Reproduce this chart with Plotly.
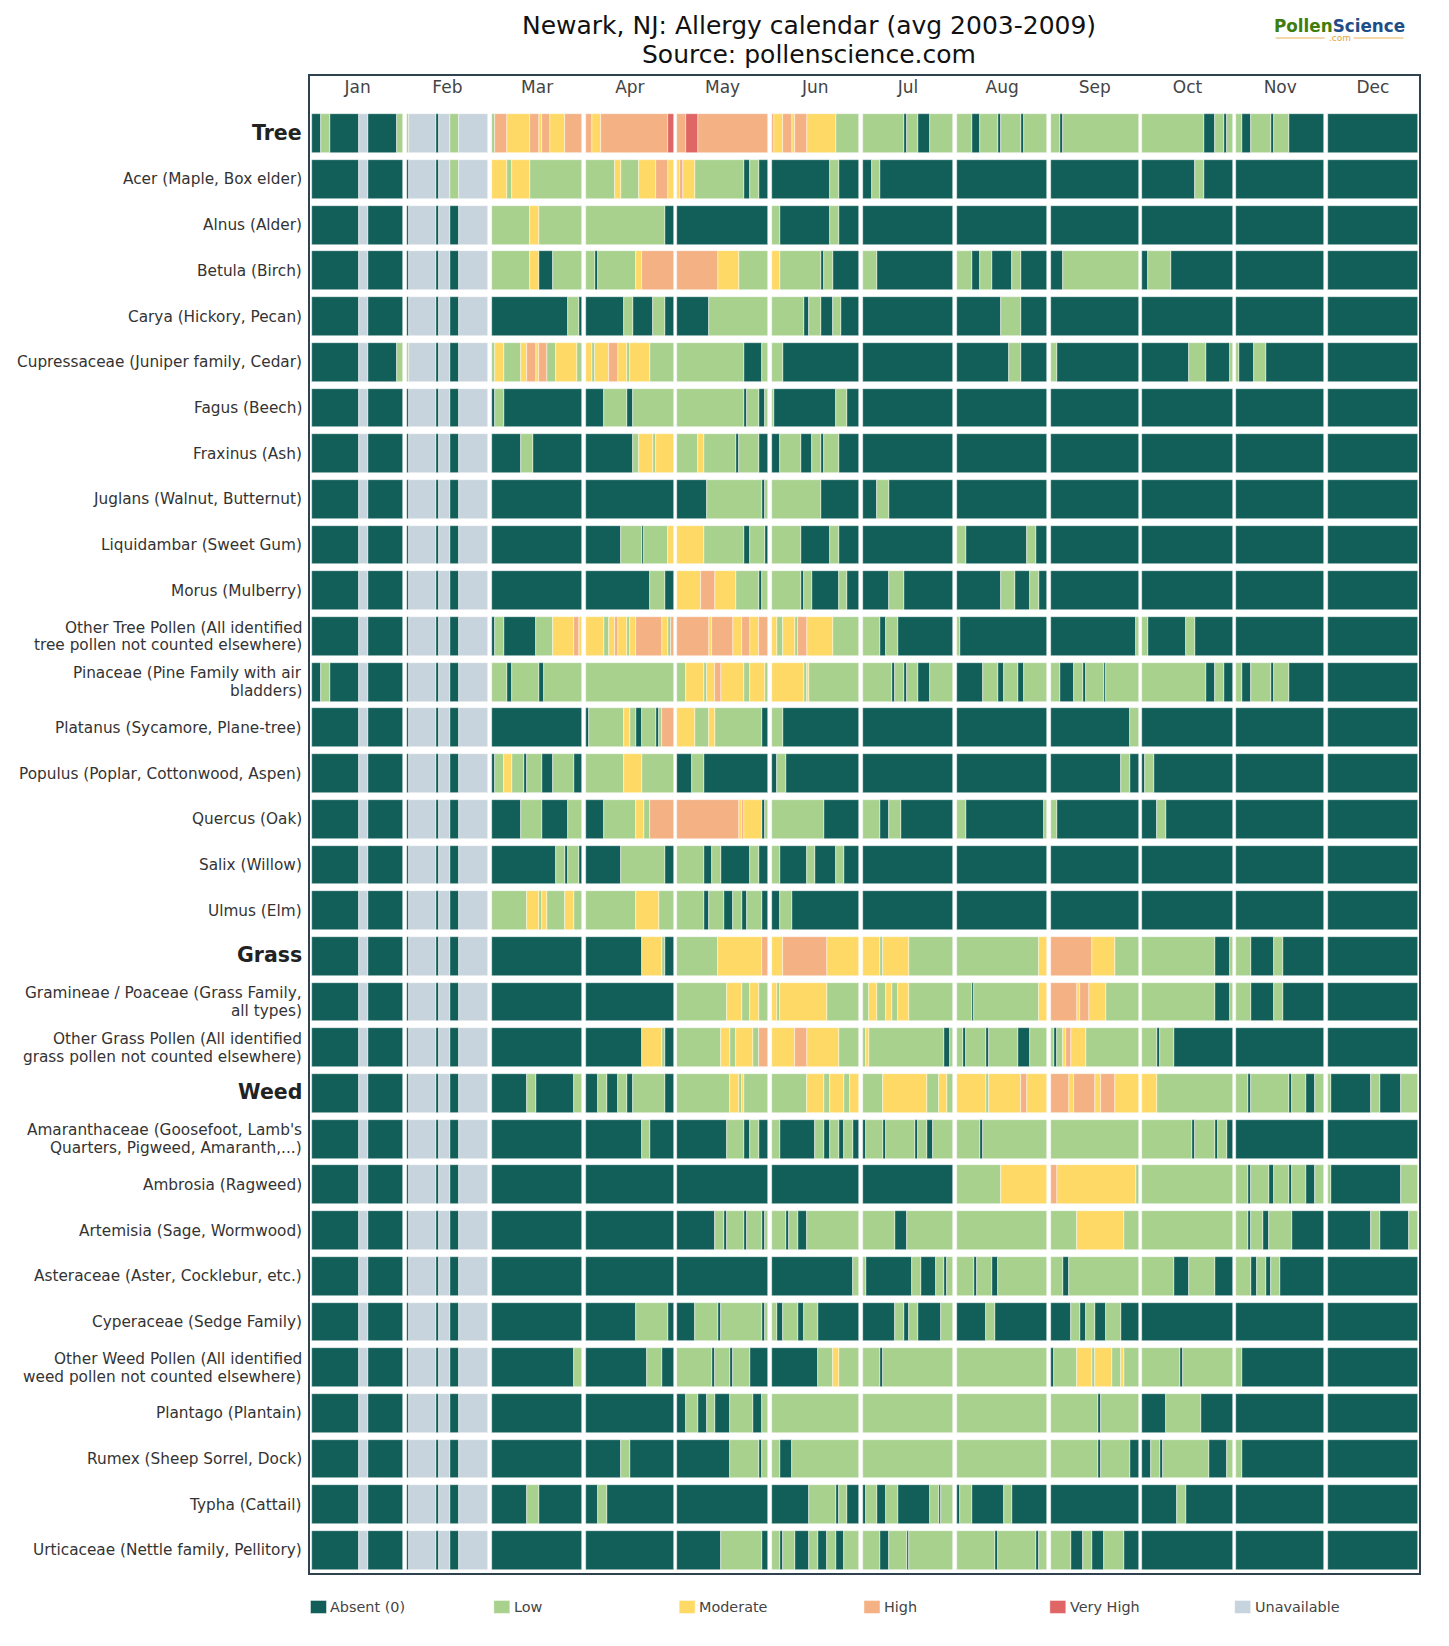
import plotly.graph_objects as go

# Calendar months and the spacing drawn between them (in day units)
MONTHS = ["Jan", "Feb", "Mar", "Apr", "May", "Jun", "Jul", "Aug", "Sep", "Oct", "Nov", "Dec"]
MONTH_DAYS = [31, 28, 31, 30, 31, 30, 31, 31, 30, 31, 30, 31]
MONTH_GAP = 1.3

# Pollen levels: code letter, legend label, colour
LEVEL_CODES = ["A", "L", "M", "H", "V", "U"]
LEVEL_NAMES = ["Absent (0)", "Low", "Moderate", "High", "Very High", "Unavailable"]
LEVEL_COLORS = ["#125f59", "#a9d18e", "#ffd966", "#f4b183", "#e06666", "#c8d4dd"]

# Each series holds one run-length string per month: level letter + number of days
JAN = "A16 U3 A12"
FEB = "A1 U9 A1 U4 A3 U10"
M28, M30, M31 = "A28", "A30", "A31"

tree = ["A3 L3 A10 U3 A10 L2", "L1 U9 A1 U4 L3 U10", "L1 H4 M8 H3 M1 H3 M5 H6", "H2 M3 H23 V2", "H3 V4 H24", "H1 M3 H3 M1 H4 M10 L8",
        "L14 A1 L4 A4 L8", "L5 A3 L6 A1 L7 A1 L8", "L3 A1 L26", "L21 A4 L3 A1 L2", "L2 A3 L7 A1 L5 A12", M31]
acer = [JAN, "A1 U9 A1 U4 L3 U10", "M5 L2 M6 L18", "L10 M2 L6 M6 H4 M2", "M1 H1 M4 L17 A2 L3 A3", "A20 L3 A7",
        "A3 L3 A25", M31, M30, "A18 L3 A10", M30, M31]
alnus = [JAN, FEB, "L13 M3 L15", "L27 A3", M31, "L3 A17 L3 A7", M31, M31, M30, M31, M30, M31]
betula = [JAN, FEB, "L13 M3 A5 L10", "L3 A1 L13 M2 H11", "H14 M7 L10", "M3 L14 A1 L3 A9",
          "L5 A26", "L5 A3 L4 A7 L3 A9", "A4 L26", "A2 L8 A21", M30, M31]
carya = [JAN, FEB, "A26 L4 A1", "A13 L3 A7 L4 A3", "A11 L20", "L11 A2 L4 A4 L3 A6",
         M31, "A15 L7 A9", M30, M31, M30, M31]
cupressaceae = ["A16 U3 A10 L2", "L1 U9 A1 U4 A3 U10", "L1 M3 L6 M2 H3 M1 H3 L3 M7 L2", "M2 L1 M5 H3 M3 L1 M7 L8", "L23 A6 L2", "L4 A26",
                M31, "A18 L4 A9", "L2 A28", "A16 L6 A8 L1", "L1 A5 L4 A20", M31]
fagus = [JAN, FEB, "A1 L3 A27", "A6 L8 A2 L14", "L23 A1 L4 A2 L1", "L1 A21 L4 A4", M31, M31, M30, M31, M30, M31]
fraxinus = [JAN, FEB, "A10 L4 A17", "A16 L2 M5 L1 M6", "L7 M2 L11 A1 L7 A3", "A3 L7 A4 L3 A1 L5 A7", M31, M31, M30, M31, M30, M31]
juglans = [JAN, FEB, M31, M30, "A10 L19 A1 L1", "L17 A13", "A5 L4 A22", M31, M30, M31, M30, M31]
liquidambar = [JAN, FEB, M31, "A12 L7 A1 L8 M2", "M9 L14 A2 L5 A1", "L10 A10 L3 A7", M31, "L3 A21 L3 A4", M30, M31, M30, M31]
morus = [JAN, FEB, M31, "A22 L5 A3", "M8 H5 M7 L8 A1 L2", "L10 A1 L3 A9 L3 A4", "A9 L5 A17", "A15 L5 A5 L3 A3", M30, M31, M30, M31]
other_tree = [JAN, FEB, "A1 L3 A11 L6 M7 H2 M1", "M6 L2 M2 H1 M3 L1 M2 H9 M2 L1 H1", "H11 M1 H7 M3 H3 M3 H3", "M2 L2 M4 L1 H3 M9 L9",
              "L6 A2 L4 A19", "L1 A30", "A29 L1", "L2 A13 L3 A13", M30, M31]
pinaceae = ["A3 L3 A10 U3 A12", FEB, "L5 A2 L9 A2 L13", "L30", "L3 M6 L1 M3 H2 M8 L2 M5 L1", "M11 L1 M1 L17",
            "L10 A1 L3 A1 L4 A4 L8", "A9 L5 A2 L5 A2 L8", "L3 A5 L3 A1 L6 A1 L11", "L22 A3 L3 A3", "L2 A3 L7 A1 L5 A12", M31]
platanus = [JAN, FEB, M31, "A1 L12 M2 L2 A2 L5 A1 L1 H4", "M6 L5 M2 L16 A2", "L4 A26", M31, M31, "A27 L3", M31, M30, M31]
populus = [JAN, FEB, "A1 L3 M3 L4 A1 L5 A4 L7 A3", "L13 M6 L11", "A5 L4 A22", "A2 L3 A25", M31, M31, "A24 L3 A3", "A1 L3 A27", M30, M31]
quercus = [JAN, FEB, "A10 L7 A9 L5", "A6 L11 M3 L2 H8", "H21 M1 H1 M6 A1 L1", "L18 A12", "L6 A3 L4 A18", "L3 A27 L1", "L2 A28", "A5 L3 A23", M30, M31]
salix = [JAN, FEB, "A22 L3 A1 L4 A1", "A12 L15 A3", "L9 A3 L3 A10 L3 A3", "L3 A9 L3 A7 L3 A5", M31, M31, M30, M31, M30, M31]
ulmus = [JAN, FEB, "L12 M4 L1 M2 L6 M3 L3", "L17 M8 L5", "L9 A2 L5 A3 L3 A2 L5 A2", "A3 L4 A23", M31, M31, M30, M31, M30, M31]
grass = [JAN, FEB, M31, "A19 M7 L1 A3", "L14 M15 H2", "M4 H15 M11", "M6 L1 M9 L15", "L28 M3", "H14 M8 L8", "L25 A5 L1", "L5 A8 L3 A14", M31]
gramineae = [JAN, FEB, M31, M30, "L17 M5 L3 M3 L3", "M2 L1 M16 L11", "L2 M3 L3 M2 L2 M4 L15", "L5 A1 L22 M3", "H9 M1 H3 M6 L11", "L25 A5 L1", "L5 A8 L3 A14", M31]
other_grass = [JAN, FEB, M31, "A19 M7 L1 A3", "L15 M3 L2 M6 L2 H3", "M8 H4 M11 L7", "L1 M1 L26 A2 L1", "L2 A1 L7 A1 L10 A4 L6",
               "L1 A1 L2 M1 H2 M5 L18", "L5 A1 L5 A20", M30, M31]
weed = [JAN, FEB, "A12 L3 A13 L3", "A4 L3 A4 L3 A2 L11 A3", "L18 M3 L1 M1 L8", "L12 M6 L2 M5 L2 M3", "L7 M15 L4 M3 L2", "M10 L1 M11 H2 M7",
        "H6 M2 H7 M2 H5 M8", "M5 L26", "L4 A1 L13 A1 L5 A3 L3", "L1 A14 L3 A7 L6"]
amaranthaceae = [JAN, FEB, M31, "A19 L3 A8", "A17 L6 A2 L3 A3", "L3 A12 L3 A2 L3 A2 L3 A2", "A1 L6 A1 L10 A1 L3 A2 L7", "L8 A1 L22", "L30",
                 "L17 A1 L7 A1 L3 A2", M30, M31]
ambrosia = [JAN, FEB, M31, M30, M31, M30, M31, "L15 M16", "H2 M27 L1", "L31", "L4 A1 L6 A2 L5 A1 L5 A3 L3", "L1 A24 L6"]
artemisia = [JAN, FEB, M31, M30, "A13 L3 A1 L6 A1 L5 A1 L1", "L5 A1 L3 A3 L18", "L11 A4 L16", "L31", "L9 M16 L5", "L31", "L4 A1 L4 A2 L8 A11", "A15 L3 A10 L3"]
asteraceae = [JAN, FEB, M31, M30, M31, "A28 L2", "L1 A16 L3 A5 L3 A1 L2", "L6 A1 L5 A2 L17", "L4 A2 L24", "L11 A5 L9 A6", "L5 A2 L3 A2 L3 A15", M31]
cyperaceae = [JAN, FEB, M31, "A17 L11 A2", "A6 L8 A1 L14 A1 L1", "L2 A2 L5 A2 L5 A14", "A11 L3 A2 L3 A8 L4", "A10 L3 A18", "A7 L3 A2 L3 A4 L5 A6", M31, M30, M31]
other_weed = [JAN, FEB, "A28 L3", "A21 L5 A4", "L12 A1 L5 A1 L6 A6", "A16 L5 M2 L7", "L6 A1 L24", "L31", "A1 L8 M5 L1 M6 L3 M1 L5", "L13 A1 L17", "L2 A28", M31]
plantago = [JAN, FEB, M31, M30, "A3 L4 A3 L3 A5 L8 A3 L2", "L30", "L31", "L31", "L16 A1 L13", "A8 L12 A11", M30, M31]
rumex = [JAN, FEB, M31, "A12 L3 A15", "A18 L10 A1 L2", "L3 A4 L23", "L31", "L31", "L16 A1 L10 A3", "A3 L3 A1 L16 A6 L2", "L2 A28", M31]
typha = [JAN, FEB, "A12 L4 A15", "A4 L3 A23", M31, "A13 L9 A1 L3 A4", "A1 L4 A3 L4 A11 L3 A1 L4", "A1 L4 A11 L3 A12", M30, "A12 L3 A16", M30, M31]
urticaceae = [JAN, FEB, M31, M30, "A15 L14 A2", "L3 A1 L4 A5 L3 A3 L3 A3 L5", "L6 A3 L6 A1 L15", "L13 A1 L13 A1 L3", "L7 A4 L3 A4 L7 A5", M31, M30, M31]

SERIES = [tree, acer, alnus, betula, carya, cupressaceae, fagus, fraxinus, juglans, liquidambar, morus,
          other_tree, pinaceae, platanus, populus, quercus, salix, ulmus, grass, gramineae, other_grass,
          weed, amaranthaceae, ambrosia, artemisia, asteraceae, cyperaceae, other_weed, plantago, rumex, typha, urticaceae]

# Row captions; "|" separates the two lines of a wrapped caption
ROW_LABELS = [
    "Tree", "Acer (Maple, Box elder)", "Alnus (Alder)", "Betula (Birch)", "Carya (Hickory, Pecan)",
    "Cupressaceae (Juniper family, Cedar)", "Fagus (Beech)", "Fraxinus (Ash)", "Juglans (Walnut, Butternut)",
    "Liquidambar (Sweet Gum)", "Morus (Mulberry)",
    "Other Tree Pollen (All identified|tree pollen not counted elsewhere)",
    "Pinaceae (Pine Family with air|bladders)", "Platanus (Sycamore, Plane-tree)",
    "Populus (Poplar, Cottonwood, Aspen)", "Quercus (Oak)", "Salix (Willow)", "Ulmus (Elm)", "Grass",
    "Gramineae / Poaceae (Grass Family,|all types)",
    "Other Grass Pollen (All identified|grass pollen not counted elsewhere)", "Weed",
    "Amaranthaceae (Goosefoot, Lamb's|Quarters, Pigweed, Amaranth,...)", "Ambrosia (Ragweed)",
    "Artemisia (Sage, Wormwood)", "Asteraceae (Aster, Cocklebur, etc.)", "Cyperaceae (Sedge Family)",
    "Other Weed Pollen (All identified|weed pollen not counted elsewhere)", "Plantago (Plantain)",
    "Rumex (Sheep Sorrel, Dock)", "Typha (Cattail)", "Urticaceae (Nettle family, Pellitory)",
]
GROUPS = {"Tree", "Grass", "Weed"}
TITLE_LINES = ["Newark, NJ: Allergy calendar (avg 2003-2009)", "Source: pollenscience.com"]

FONT = "DejaVu Sans"
WIDTH, HEIGHT = 1449, 1646
LEFT, RIGHT, TOP, BOTTOM = 309.5, 1419.5, 75.5, 1573.5
FIRST_ROW_CENTER, ROW_PITCH = 133.3, 45.73
PX_PER_UNIT = 1106.7 / (sum(MONTH_DAYS) + 11 * MONTH_GAP)
FIRST_CELL = 311.9
LABEL_RIGHT = 302.5
WRAPPED_LINE_SHIFT = 8.9


def paper_x(px):
    return (px - LEFT) / (RIGHT - LEFT)


def paper_y(py):
    return (BOTTOM - py) / (BOTTOM - TOP)


# Where each month begins on the continuous x scale
month_start = []
position = 0.0
for days in MONTH_DAYS:
    month_start.append(position)
    position += days + MONTH_GAP

# Expand the run-length strings into one bar list per level
bars = {code: {"row": [], "base": [], "length": []} for code in LEVEL_CODES}
for row, months in enumerate(SERIES):
    for m, runs in enumerate(months):
        cursor = 0
        for token in runs.split():
            code, days = token[0], int(token[1:])
            bars[code]["row"].append(row)
            bars[code]["base"].append(month_start[m] + cursor)
            bars[code]["length"].append(days)
            cursor += days
        assert cursor == MONTH_DAYS[m], (ROW_LABELS[row], MONTHS[m], cursor)

fig = go.Figure()
for code, name, color in zip(LEVEL_CODES, LEVEL_NAMES, LEVEL_COLORS):
    fig.add_trace(go.Bar(
        name=name, orientation="h", y=bars[code]["row"], x=bars[code]["length"], base=bars[code]["base"],
        width=0.85, marker=dict(color=color, line=dict(color="rgba(255,255,255,0.75)", width=0.6)),
        showlegend=False, hoverinfo="skip",
    ))

x_min = (LEFT - FIRST_CELL) / PX_PER_UNIT
x_max = (RIGHT - FIRST_CELL) / PX_PER_UNIT
y_top = (TOP - FIRST_ROW_CENTER) / ROW_PITCH
y_bottom = (BOTTOM - FIRST_ROW_CENTER) / ROW_PITCH

fig.update_layout(
    width=WIDTH, height=HEIGHT, autosize=False, barmode="overlay", bargap=0,
    margin=dict(l=LEFT, r=WIDTH - RIGHT, t=TOP, b=HEIGHT - BOTTOM, pad=0),
    paper_bgcolor="white", plot_bgcolor="white", showlegend=False,
    font=dict(family=FONT, color="#333333", size=14),
    xaxis=dict(
        range=[x_min, x_max], side="top", ticklabelposition="inside", showgrid=False, zeroline=False,
        tickmode="array", tickvals=[s + d / 2 for s, d in zip(month_start, MONTH_DAYS)], ticktext=MONTHS,
        ticks="", ticklabelstandoff=6, tickfont=dict(size=17, color="#444444"),
        showline=True, mirror=True, linecolor="#2e4250", linewidth=2,
    ),
    yaxis=dict(
        range=[y_bottom, y_top], showgrid=False, zeroline=False, showticklabels=False, ticks="",
        showline=True, mirror=True, linecolor="#2e4250", linewidth=2,
    ),
    title=dict(
        text=TITLE_LINES[0],
        x=paper_x(809), xanchor="center", xref="paper", y=1 - 16 / HEIGHT, yanchor="top", yref="container",
        font=dict(family=FONT, size=25, color="#111111"),
    ),
)
fig.add_annotation(
    text=TITLE_LINES[1], xref="paper", yref="paper", showarrow=False, xanchor="center", yanchor="middle",
    x=paper_x(809), y=paper_y(53.5), font=dict(family=FONT, size=25, color="#111111"),
)

# Row captions, right-aligned against the frame
for row, label in enumerate(ROW_LABELS):
    lines = label.split("|")
    is_group = label in GROUPS
    for i, line in enumerate(lines):
        shift = WRAPPED_LINE_SHIFT * (1 - 2 * i) if len(lines) == 2 else (1 if is_group else 0)
        fig.add_annotation(
            text=f"<b>{line}</b>" if is_group else line,
            xref="paper", yref="y", x=paper_x(LABEL_RIGHT), y=row, yshift=shift,
            showarrow=False, xanchor="right", yanchor="middle", borderpad=0,
            font=dict(size=20.5 if is_group else 15.3, color="#222222" if is_group else "#333333"),
        )

# Legend row beneath the calendar: swatches and labels laid out on the page
LEGEND_X = [310, 493.5, 679, 864, 1050, 1235]
for left, name, color in zip(LEGEND_X, LEVEL_NAMES, LEVEL_COLORS):
    fig.add_shape(type="rect", xref="paper", yref="paper",
                  x0=paper_x(left), x1=paper_x(left + 16), y0=paper_y(1614), y1=paper_y(1601),
                  fillcolor=color, line=dict(color="rgba(255,255,255,0.75)", width=0.6))
    fig.add_annotation(text=name, xref="paper", yref="paper", showarrow=False, xanchor="left", yanchor="middle",
                       x=paper_x(left + 18), y=paper_y(1608), font=dict(size=14.4, color="#444444"))

# PollenScience wordmark in the top right corner
fig.add_annotation(
    text='<b><span style="color:#3f7d0e">Pollen</span><span style="color:#1f4e86">Science</span></b>',
    xref="paper", yref="paper", showarrow=False, xanchor="center", yanchor="middle",
    x=paper_x(1340), y=paper_y(25.5), font=dict(size=16.8),
)
fig.add_annotation(
    text=".com", xref="paper", yref="paper", showarrow=False, xanchor="center", yanchor="middle",
    x=paper_x(1340), y=paper_y(37), font=dict(size=9, color="#e8a33d"),
)
for x0, x1 in [(1276, 1325), (1354, 1404)]:
    fig.add_shape(type="line", xref="paper", yref="paper",
                  x0=paper_x(x0), x1=paper_x(x1), y0=paper_y(37.5), y1=paper_y(37.5),
                  line=dict(color="#e8b05a", width=1))

fig.write_html("out.html")
